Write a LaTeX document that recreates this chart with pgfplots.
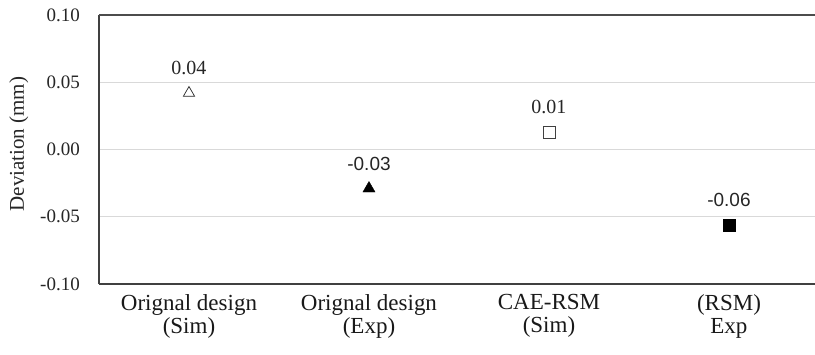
\documentclass[border=0pt]{standalone}
\usepackage{pgfplots}
\pgfplotsset{compat=1.18}
\usepackage{fontspec}
\setmainfont{Liberation Serif}
\newfontfamily\sansfont{Liberation Sans}

\begin{document}
\begin{tikzpicture}
% fixed page frame
\path[use as bounding box] (-99pt,-70pt) rectangle (716pt,284pt);
\begin{axis}[
  at={(0pt,0pt)}, anchor=south west,
  scale only axis,
  width=716pt, height=269pt,
  xmin=-0.5, xmax=3.478,
  ymin=-0.10, ymax=0.10,
  ytick={-0.10,-0.05,0,0.05,0.10},
  xtick={0,1,2,3},
  xticklabels={{Orignal design\\(Sim)},{Orignal design\\(Exp)},{CAE-RSM\\(Sim)},{(RSM)\\Exp}},
  axis lines*=left,
  axis line style={black!75, line width=1.3pt},
  major tick length=0pt,
  ymajorgrids,
  grid style={black!15, line width=0.8pt},
  /pgf/number format/assume math mode=true,
  yticklabel style={/pgf/number format/fixed, /pgf/number format/fixed zerofill,
    /pgf/number format/precision=2, inner sep=0pt, xshift=-19pt,
    font=\fontsize{19}{21}\selectfont, text=black!85},
  xticklabel style={align=center, inner sep=0pt, yshift=-10pt,
    font=\fontsize{23}{23}\selectfont, text=black!90},
  ylabel={Deviation (mm)},
  ylabel style={at={(axis description cs:-0.112,0.52)}, anchor=center, rotate=0,
    font=\fontsize{21}{22}\selectfont, text=black!85},
  clip=false,
  nodes near coords,
  point meta=y,
  every node near coord/.append style={anchor=south, inner sep=0pt, yshift=18pt,
    /pgf/number format/fixed, /pgf/number format/fixed zerofill,
    /pgf/number format/precision=2},
]
% top frame line
\draw[black!70, line width=1.6pt] (rel axis cs:0,1) -- (rel axis cs:1,1);

% Original design, simulation
\addplot[only marks, mark=triangle, mark size=6.5pt, line width=0.7pt, black!85,
  nodes near coords style={font=\fontsize{20}{22}\selectfont, text=black!85}]
  coordinates {(0,0.042)};
% Original design, experiment
\addplot[only marks, mark=triangle*, mark size=7pt, black,
  nodes near coords style={font=\sansfont\fontsize{19}{21}\selectfont, text=black!85}]
  coordinates {(1,-0.029)};
% CAE-RSM, simulation
\addplot[only marks, mark=square, mark size=6pt, line width=0.7pt, black!75,
  nodes near coords style={font=\fontsize{20}{22}\selectfont, text=black!85}]
  coordinates {(2,0.013)};
% RSM, experiment
\addplot[only marks, mark=square*, mark size=6pt, black,
  nodes near coords style={font=\sansfont\fontsize{19}{21}\selectfont, text=black!85}]
  coordinates {(3,-0.056)};
\end{axis}
\end{tikzpicture}
\end{document}
